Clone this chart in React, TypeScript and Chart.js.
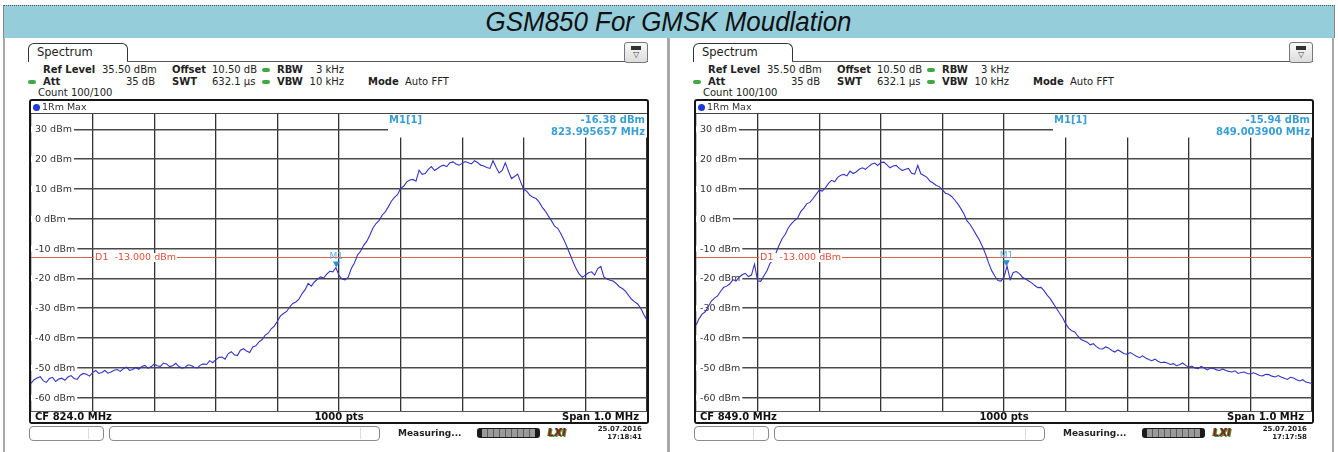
import React, { useEffect, useRef } from "react";
import { Chart, registerables } from "chart.js";

Chart.register(...registerables);

const FONT = '"DejaVu Sans", Verdana, sans-serif';

// ---------- data ----------
const Y_TICKS_DBM = [30, 20, 10, 0, -10, -20, -30, -40, -50, -60];
const REF_LEVEL_DBM = 35.5;
const RANGE_DB = 100;
const D1_LIMIT_DBM = -13;

// GSM850 lower band edge, CF 824.0 MHz, span 1 MHz (201 samples of the 1000-pt trace)
const LEFT_TRACE_DBM = [
  -55.2, -54.0, -53.4, -53.0, -54.4, -54.9, -53.6, -53.2, -54.6, -53.8,
  -53.5, -54.2, -53.1, -52.6, -53.6, -53.9, -52.5, -51.9, -52.2, -52.8,
  -51.6, -50.9, -51.9, -51.6, -50.9, -51.8, -51.4, -50.8, -50.6, -51.2,
  -50.3, -49.8, -50.9, -50.6, -49.9, -50.5, -49.6, -49.2, -50.2, -49.6,
  -48.8, -49.3, -49.5, -48.4, -48.7, -49.6, -49.3, -48.5, -49.6, -50.1,
  -49.9, -49.0, -49.2, -49.8, -50.0, -49.1, -48.7, -48.9, -47.6, -48.3,
  -47.3, -46.5, -46.4, -47.1, -45.3, -44.6, -45.6, -45.9, -44.1, -43.6,
  -44.4, -44.9, -43.0, -42.6, -41.3, -40.6, -39.1, -38.4, -36.9, -36.0,
  -34.4, -32.6, -31.8, -31.1, -29.6, -28.4, -27.9, -27.0, -25.1, -23.8,
  -21.7, -22.6, -21.2, -20.3, -19.5, -19.9, -18.6, -17.6, -17.8, -16.4,
  -19.0, -20.2, -20.5, -19.6, -16.7, -14.8, -12.2, -10.9, -8.9, -7.6,
  -5.5, -3.2, -1.6, -0.6, 1.2, 2.3, 4.0, 5.9, 7.2, 8.1,
  10.2, 10.9, 12.4, 13.0, 13.2, 12.6, 16.3, 14.9, 15.2, 16.6,
  17.5, 16.2, 16.9, 17.6, 18.0, 17.5, 18.8, 19.1, 18.4, 18.0,
  18.6, 19.2, 18.8, 18.4, 19.5, 18.9, 18.0, 17.7, 17.2, 16.9,
  19.5, 17.3, 15.4, 16.2, 18.8, 16.0, 13.5, 14.2, 15.0, 12.3,
  9.8, 9.2, 7.9, 7.2, 6.8, 5.6, 3.8, 2.6, 0.9, -0.7,
  -2.5, -3.2, -4.9, -7.0, -9.4, -11.9, -14.5, -16.8, -18.6, -19.6,
  -18.9, -18.1, -17.8, -18.9, -16.7, -16.0, -19.5, -20.2, -20.6, -20.9,
  -21.7, -22.8, -23.4, -24.3, -25.7, -27.0, -27.9, -28.6, -30.1, -32.2,
  -34.0,
];

// GSM850 upper band edge, CF 849.0 MHz, span 1 MHz
const RIGHT_TRACE_DBM = [
  -35.7, -33.5, -32.0, -31.2, -29.4, -27.6, -26.6, -25.9, -24.3, -23.0,
  -22.6, -21.8, -20.4, -20.9, -19.6, -18.8, -18.3, -19.4, -18.9, -15.2,
  -20.8, -21.0, -19.2, -17.5, -15.0, -13.9, -11.4, -8.8, -6.6, -5.2,
  -3.0, -1.6, -0.6, 0.3, 2.4, 3.6, 5.1, 5.5, 6.8, 8.2,
  9.6, 9.3, 10.4, 11.9, 12.9, 12.4, 13.9, 14.6, 14.9, 14.4,
  16.0, 15.2, 15.7, 16.6, 17.1, 16.6, 17.5, 18.3, 18.7, 17.9,
  18.9, 19.0, 18.1, 17.1, 17.7, 17.9, 16.9, 16.2, 16.6, 16.9,
  15.3, 15.0, 17.9, 15.1, 14.5, 13.9, 12.6, 12.0, 11.2, 10.8,
  9.7, 8.6, 8.2, 7.5, 6.3, 5.0, 3.4, 1.6, -0.7, -1.9,
  -3.6, -5.4, -7.1, -9.3, -11.8, -14.8, -17.4, -19.2, -20.7, -20.9,
  -19.5, -15.9, -20.4, -18.0, -17.7, -18.4, -19.6, -20.2, -20.9, -21.5,
  -22.4, -23.1, -23.0, -24.1, -25.6, -26.8, -28.4, -30.0, -31.6, -33.1,
  -35.2, -36.7, -37.6, -38.0, -39.4, -40.5, -40.9, -41.4, -42.3, -41.9,
  -42.9, -43.6, -43.7, -43.0, -43.4, -44.2, -44.7, -44.0, -44.6, -45.3,
  -45.4, -44.9, -45.5, -46.1, -46.6, -46.0, -46.7, -47.2, -47.6, -47.1,
  -47.8, -48.3, -48.1, -48.4, -48.9, -48.6, -49.3, -49.0, -48.4, -49.2,
  -49.8, -49.4, -50.1, -50.3, -49.5, -50.1, -50.7, -50.1, -50.2, -50.7,
  -50.9, -50.4, -50.9, -51.2, -51.4, -51.0, -51.9, -51.6, -51.4, -51.9,
  -52.1, -51.7, -52.1, -52.6, -52.7, -52.2, -52.3, -52.8, -53.1, -52.6,
  -53.1, -53.5, -53.9, -53.2, -53.4, -54.0, -54.4, -54.0, -54.8, -55.0,
  -55.3,
];

const SWEEP_BINS = LEFT_TRACE_DBM.map((_, i) => i / 2); // sweep position, 0..100 % of span

const MARKER_BIN = [49.57, 50.39];
const MARKER_DBM = [-16.38, -15.94];
const MARKER_FREQ = ["823.995657 MHz", "849.003900 MHz"];
const CENTER_FREQ = ["CF 824.0 MHz", "CF 849.0 MHz"];
const DATES = ["25.07.2016", "25.07.2016"];
const TIMES = ["17:18:41", "17:17:58"];
const TRACES = [LEFT_TRACE_DBM, RIGHT_TRACE_DBM];

const TITLE = "GSM850 For GMSK Moudlation";

// ---------- layout ----------
const PLOT_X = 31;
const PLOT_Y = 113;
const PLOT_W = 616;
const PLOT_H = 298;
const PANEL_OFFSETS = [0, 665];

function Txt(props: {
  x: number; y: number; s?: number; b?: boolean; c?: string; a?: "left" | "right" | "center"; i?: boolean; children: any;
}) {
  const { x, y, s = 10, b = false, c = "#222", a = "left", i = false, children } = props;
  const tx = a === "left" ? "0" : a === "right" ? "-100%" : "-50%";
  return (
    <div
      style={{
        position: "absolute",
        left: x,
        top: y - s * 0.6,
        fontSize: s,
        lineHeight: `${s * 1.2}px`,
        fontWeight: b ? "bold" : "normal",
        fontStyle: i ? "italic" : "normal",
        color: c,
        whiteSpace: "nowrap",
        transform: `translateX(${tx})`,
        fontFamily: FONT,
      }}
    >
      {children}
    </div>
  );
}

function Dot({ x, y, c = "#43a843", w = 8, h = 4 }: { x: number; y: number; c?: string; w?: number; h?: number }) {
  return (
    <div
      style={{
        position: "absolute",
        left: x,
        top: y - h / 2,
        width: w,
        height: h,
        borderRadius: h,
        background: c,
      }}
    />
  );
}

function SpectrumChart({ idx, ox }: { idx: number; ox: number }) {
  const ref = useRef<HTMLCanvasElement>(null);
  useEffect(() => {
    const canvas = ref.current!;
    const trace = TRACES[idx];
    const markerBin = MARKER_BIN[idx];
    const markerDbm = MARKER_DBM[idx];
    const markerFreq = MARKER_FREQ[idx];

    const overlay = {
      id: "overlay",
      beforeDatasetsDraw(chart: any) {
        const { ctx, chartArea: a, scales } = chart;
        const ys = scales.y;
        ctx.save();
        // marker readout area hides the grid
        ctx.fillStyle = "#fff";
        ctx.fillRect(a.left + 357, a.top, a.right - a.left - 357, 24.5);
        // y tick labels inside the plot
        ctx.font = `9.5px ${FONT}`;
        ctx.textBaseline = "middle";
        ctx.textAlign = "left";
        for (const v of Y_TICKS_DBM) {
          const py = ys.getPixelForValue(v);
          const label = `${v} dBm`;
          const w = ctx.measureText(label).width;
          ctx.fillStyle = "#fff";
          ctx.fillRect(a.left, py - 3, w + 6, 6);
          ctx.fillStyle = "#333";
          ctx.fillText(label, a.left + 4, py + 0.5);
        }
        // marker readout
        ctx.font = `bold 10px ${FONT}`;
        ctx.fillStyle = "#3a9fd5";
        ctx.fillText("M1[1]", a.left + 358, a.top + 7.5);
        ctx.textAlign = "right";
        ctx.fillText(`${markerDbm.toFixed(2)} dBm`, a.right - 2, a.top + 7.5);
        ctx.fillText(markerFreq, a.right - 2, a.top + 19);
        ctx.restore();
      },
      afterDatasetsDraw(chart: any) {
        const { ctx, scales } = chart;
        const xs = scales.x;
        const ys = scales.y;
        ctx.save();
        // D1 label
        ctx.font = `9.5px ${FONT}`;
        ctx.textBaseline = "middle";
        ctx.textAlign = "left";
        const label = `D1  ${D1_LIMIT_DBM.toFixed(3)} dBm`;
        const lx = xs.getPixelForValue(10) + 2.5;
        const ly = ys.getPixelForValue(D1_LIMIT_DBM);
        const w = ctx.measureText(label).width;
        ctx.fillStyle = "#fff";
        ctx.fillRect(lx - 1, ly - 4.5, w + 2, 9);
        ctx.fillStyle = "#e0503c";
        ctx.fillText(label, lx, ly + 0.5);
        // marker M1
        const mx = xs.getPixelForValue(markerBin);
        const my = ys.getPixelForValue(markerDbm);
        ctx.fillStyle = "#2a8fd0";
        ctx.beginPath();
        ctx.moveTo(mx, my);
        ctx.lineTo(mx - 3.5, my - 6);
        ctx.lineTo(mx + 3.5, my - 6);
        ctx.closePath();
        ctx.fill();
        ctx.fillStyle = "#5ab0e0";
        ctx.font = `9px ${FONT}`;
        ctx.textAlign = "center";
        ctx.fillText("M1", mx, my - 11);
        ctx.restore();
      },
    };

    const chart = new Chart(canvas, {
      type: "line",
      data: {
        datasets: [
          {
            data: trace.map((v, i) => ({ x: SWEEP_BINS[i], y: v })),
            borderColor: "#3434c8",
            borderWidth: 1.1,
            pointRadius: 0,
            tension: 0,
            order: 1,
          },
          {
            data: [
              { x: 0, y: D1_LIMIT_DBM },
              { x: 100, y: D1_LIMIT_DBM },
            ],
            borderColor: "#e0604c",
            borderWidth: 1,
            pointRadius: 0,
            order: 2,
          },
        ],
      },
      options: {
        responsive: false,
        animation: false,
        maintainAspectRatio: false,
        layout: { padding: 0 },
        plugins: { legend: { display: false }, tooltip: { enabled: false } },
        scales: {
          x: {
            type: "linear",
            min: 0,
            max: 100,
            ticks: { display: false, stepSize: 10 },
            grid: { color: "#333", lineWidth: 1.3, drawTicks: false },
            border: { display: false },
          },
          y: {
            type: "linear",
            min: REF_LEVEL_DBM - RANGE_DB,
            max: REF_LEVEL_DBM,
            afterBuildTicks: (s: any) => {
              s.ticks = Y_TICKS_DBM.map((v) => ({ value: v }));
            },
            ticks: { display: false },
            grid: { color: "#4a4a4a", lineWidth: 1.5, drawTicks: false },
            border: { display: false },
          },
        },
      },
      plugins: [overlay],
    } as any);
    return () => chart.destroy();
  }, [idx]);
  return (
    <canvas
      ref={ref}
      width={PLOT_W}
      height={PLOT_H}
      style={{ position: "absolute", left: ox + PLOT_X, top: PLOT_Y, width: PLOT_W, height: PLOT_H }}
    />
  );
}

function Panel({ idx }: { idx: number }) {
  const ox = PANEL_OFFSETS[idx];
  const X = (v: number) => ox + v;
  return (
    <>
      {/* panel side borders */}
      <div
        style={{
          position: "absolute",
          left: X(3),
          top: 38,
          width: 666,
          height: 420,
          borderLeft: "2px solid #a8a8a8",
          borderRight: "2px solid #a8a8a8",
          boxSizing: "border-box",
        }}
      />
      {/* tab */}
      <div
        style={{
          position: "absolute",
          left: X(28),
          top: 43,
          width: 100,
          height: 19,
          border: "1px solid #333",
          borderBottom: "none",
          borderRadius: "6px 6px 0 0",
          background: "#fff",
          boxSizing: "border-box",
        }}
      />
      <div style={{ position: "absolute", left: X(127), top: 61, width: 521, height: 1, background: "#555" }} />
      <Txt x={X(37)} y={53} s={11.5}>Spectrum</Txt>
      {/* icon */}
      <div
        style={{
          position: "absolute",
          left: X(624),
          top: 42,
          width: 24,
          height: 21,
          border: "1px solid #777",
          borderRadius: 3,
          background: "linear-gradient(#fafafa,#dcdcdc)",
          boxSizing: "border-box",
        }}
      />
      <div style={{ position: "absolute", left: X(631), top: 46, width: 10, height: 4, background: "#333" }} />
      <Txt x={X(636)} y={55} s={8} a="center" c="#444">▽</Txt>

      {/* header */}
      <Txt x={X(43)} y={69.5} b>Ref Level</Txt>
      <Txt x={X(102)} y={69.5}>35.50 dBm</Txt>
      <Txt x={X(172)} y={69.5} b>Offset</Txt>
      <Txt x={X(212)} y={69.5}>10.50 dB</Txt>
      <Dot x={X(262)} y={70} />
      <Txt x={X(277)} y={69.5} b>RBW</Txt>
      <Txt x={X(344)} y={69.5} a="right">3 kHz</Txt>

      <Dot x={X(28)} y={82} />
      <Txt x={X(43)} y={81.5} b>Att</Txt>
      <Txt x={X(155)} y={81.5} a="right">35 dB</Txt>
      <Txt x={X(172)} y={81.5} b>SWT</Txt>
      <Txt x={X(212)} y={81.5}>632.1 µs</Txt>
      <Dot x={X(262)} y={82} />
      <Txt x={X(277)} y={81.5} b>VBW</Txt>
      <Txt x={X(344)} y={81.5} a="right">10 kHz</Txt>
      <Txt x={X(368)} y={81.5} b>Mode</Txt>
      <Txt x={X(405)} y={81.5}>Auto FFT</Txt>

      <Txt x={X(38)} y={92.5}>Count 100/100</Txt>

      {/* plot */}
      <SpectrumChart idx={idx} ox={ox} />

      {/* frame */}
      <div
        style={{
          position: "absolute",
          left: X(29),
          top: 99,
          width: 620,
          height: 325,
          border: "2px solid #151515",
          borderRadius: 3,
          boxSizing: "border-box",
          pointerEvents: "none",
        }}
      />
      <div style={{ position: "absolute", left: X(31), top: 112.5, width: 616, height: 1, background: "#444" }} />
      <div
        style={{ position: "absolute", left: X(33), top: 104, width: 6.5, height: 6.5, borderRadius: 4, background: "#1f3ad6" }}
      />
      <Txt x={X(42)} y={106.5} s={9.5} c="#333">1Rm Max</Txt>

      {/* bottom bar */}
      <div
        style={{
          position: "absolute",
          left: X(31),
          top: 410.5,
          width: 616,
          height: 11.5,
          background: "#fff",
          borderTop: "1px solid #555",
          boxSizing: "border-box",
        }}
      />
      <Txt x={X(35)} y={416.5} b c="#111">{CENTER_FREQ[idx]}</Txt>
      <Txt x={X(339)} y={416.5} b c="#111" a="center">1000 pts</Txt>
      <Txt x={X(639)} y={416.5} b c="#111" a="right">Span 1.0 MHz</Txt>

      {/* status row */}
      <div
        style={{
          position: "absolute",
          left: X(29),
          top: 426,
          width: 75,
          height: 15,
          border: "1px solid #8a8a8a",
          borderRadius: 4,
          boxSizing: "border-box",
        }}
      />
      <div style={{ position: "absolute", left: X(88), top: 428, width: 1, height: 11, background: "#ddd" }} />
      <div
        style={{
          position: "absolute",
          left: X(109),
          top: 426,
          width: 271,
          height: 15,
          border: "1px solid #8a8a8a",
          borderRadius: 4,
          boxSizing: "border-box",
        }}
      />
      <div style={{ position: "absolute", left: X(360), top: 428, width: 1, height: 11, background: "#ddd" }} />
      <Txt x={X(398)} y={433} s={9} b c="#222">Measuring...</Txt>
      <div
        style={{ position: "absolute", left: X(477), top: 428, width: 63, height: 10, background: "#1a1a1a", borderRadius: 3 }}
      />
      <div
        style={{
          position: "absolute",
          left: X(482),
          top: 429,
          width: 53,
          height: 8,
          background: "repeating-linear-gradient(90deg,#9a9a9a 0px,#9a9a9a 5px,#5a5a5a 5px,#5a5a5a 6px)",
        }}
      />
      <Txt x={X(557)} y={433} s={10} b i c="#8a2020" a="center">
        <span style={{ textShadow: "1px 1px 0 #4f9a3a, -1px 0 0 #4f9a3a" }}>LXI</span>
      </Txt>
      <Txt x={X(642)} y={429} s={7} b c="#222" a="right">{DATES[idx]}</Txt>
      <Txt x={X(642)} y={437} s={7} b c="#222" a="right">{TIMES[idx]}</Txt>
    </>
  );
}

export default function App() {
  return (
    <div
      style={{
        position: "absolute",
        left: 0,
        top: 0,
        width: 1338,
        height: 452,
        overflow: "hidden",
        background: "#fff",
        fontFamily: FONT,
      }}
    >
      {/* title bar */}
      <div
        style={{
          position: "absolute",
          left: 3,
          top: 5,
          width: 1332,
          height: 33,
          background: "#95cddb",
          borderTop: "1px dotted #555",
          borderLeft: "1px solid #888",
          borderRight: "1px solid #888",
          boxSizing: "border-box",
        }}
      />
      <div
        style={{
          position: "absolute",
          left: 0,
          width: 1338,
          top: 6,
          height: 32,
          lineHeight: "32px",
          textAlign: "center",
          fontFamily: '"Liberation Sans", Arial, sans-serif',
          fontStyle: "italic",
          fontSize: 27,
          color: "#111",
        }}
      >
        <span style={{ display: "inline-block", transform: "scaleX(0.96)" }}>{TITLE}</span>
      </div>
      <Panel idx={0} />
      <Panel idx={1} />
    </div>
  );
}
